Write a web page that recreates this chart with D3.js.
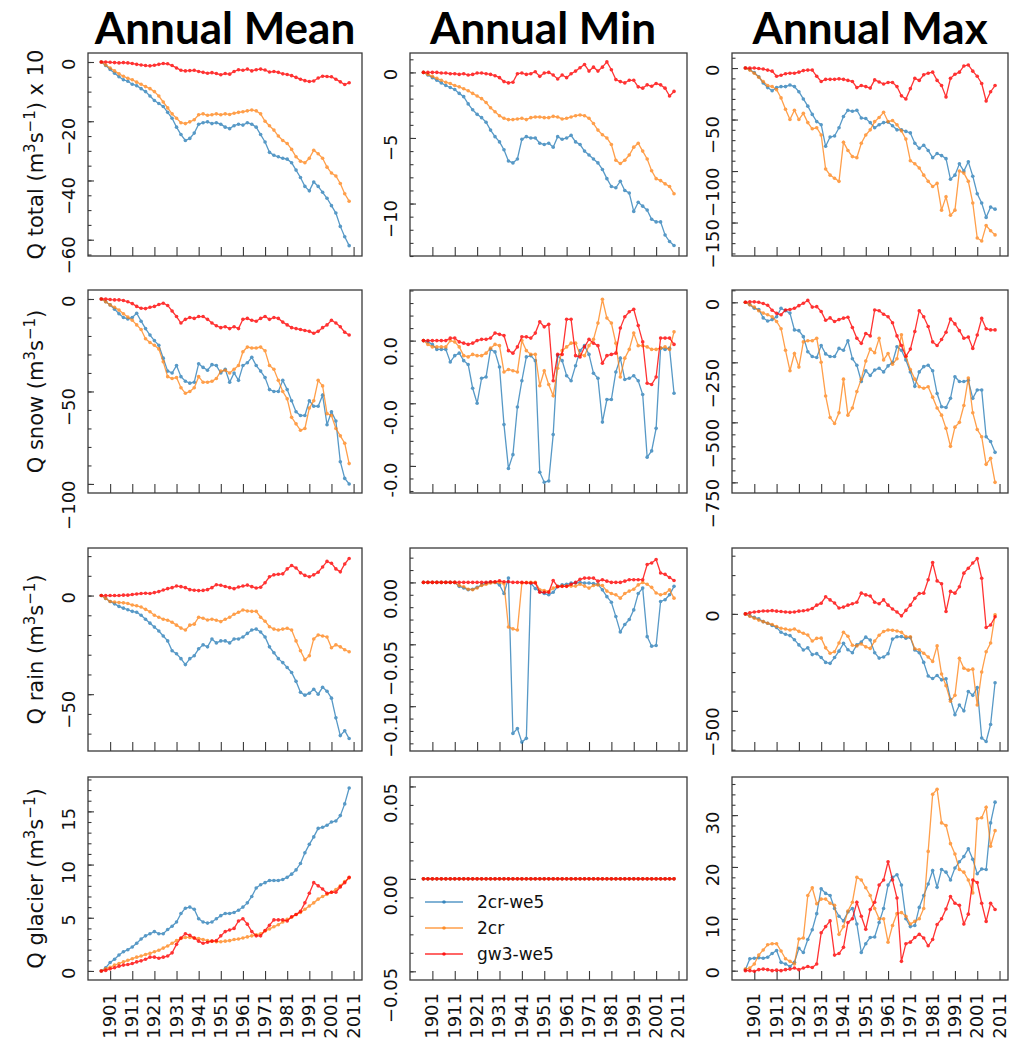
<!DOCTYPE html>
<html lang="en">
<head>
    <meta charset="UTF-8">
    <title>Annual Mean / Min / Max discharge changes</title>
    <script src="https://cdnjs.cloudflare.com/ajax/libs/d3/7.8.5/d3.min.js"></script>
    <style>
        body { margin: 0; background: #fff; }
        svg { display: block; }
    </style>
</head>
<body>
<svg id="chart" width="1017" height="1043"></svg>
<script>
// ---- data (every second year) ----
const years = [1897, 1899, 1901, 1903, 1905, 1907, 1909, 1911, 1913, 1915, 1917, 1919, 1921, 1923, 1925,
    1927, 1929, 1931, 1933, 1935, 1937, 1939, 1941, 1943, 1945, 1947, 1949, 1951, 1953, 1955, 1957, 1959,
    1961, 1963, 1965, 1967, 1969, 1971, 1973, 1975, 1977, 1979, 1981, 1983, 1985, 1987, 1989, 1991, 1993,
    1995, 1997, 1999, 2001, 2003, 2005, 2007, 2009];

const seriesNames = ["2cr-we5", "2cr", "gw3-we5"];
const xTickYears = [1901, 1911, 1921, 1931, 1941, 1951, 1961, 1971, 1981, 1991, 2001, 2011];
const colTitles = ["Annual Mean", "Annual Min", "Annual Max"];
const rowNames = ["Q total", "Q snow", "Q rain", "Q glacier"];

// Q total (x 10)
const totalMean_2crwe5 = [0, -1.2, -2.5, -3.8, -5.0, -6.0, -6.5, -7.5, -8.0, -9.0, -10.0, -11.5, -13.0, -14.0, -15.0, -17.0, -19.0, -22.0, -24.5, -26.5, -25.8, -24.0, -21.0, -20.5, -20.2, -20.8, -20.5, -21.0, -22.0, -22.5, -21.5, -21.0, -21.3, -20.5, -21.0, -22.0, -24.5, -27.0, -30.5, -31.5, -32.0, -32.5, -32.8, -34.0, -36.5, -39.0, -42.0, -43.5, -40.5, -42.0, -44.0, -46.0, -48.5, -51.0, -55.5, -59.0, -62.0];
const totalMean_2cr = [0, -1.0, -2.0, -3.0, -4.0, -4.8, -5.5, -6.0, -6.8, -7.5, -8.3, -9.0, -10.0, -11.5, -13.5, -15.5, -17.5, -19.0, -20.5, -20.8, -20.2, -19.5, -17.8, -17.5, -18.0, -17.8, -17.5, -17.8, -17.5, -17.7, -17.3, -17.0, -16.8, -16.5, -16.2, -16.5, -17.5, -20.0, -21.5, -23.0, -25.0, -26.5, -27.5, -29.5, -32.0, -33.5, -34.0, -32.5, -29.8, -31.0, -32.5, -35.5, -37.5, -38.5, -41.0, -44.5, -47.0];
const totalMean_gw3we5 = [0, 0, -0.1, -0.2, -0.3, -0.2, -0.3, -0.5, -0.8, -1.0, -1.2, -1.3, -1.1, -0.8, -0.5, -0.6, -1.2, -2.0, -2.8, -3.0, -2.9, -2.8, -3.2, -3.5, -3.8, -3.6, -3.9, -4.3, -3.9, -4.1, -3.2, -2.6, -2.8, -2.4, -3.0, -2.6, -2.4, -2.7, -3.4, -3.2, -3.5, -4.0, -4.2, -4.6, -5.2, -5.8, -6.3, -6.6, -6.4, -5.4, -4.8, -4.9, -5.0, -5.8, -6.7, -7.6, -7.0];

const totalMin_2crwe5 = [0, -0.2, -0.4, -0.6, -0.8, -1.0, -1.15, -1.3, -1.6, -1.85, -2.4, -2.85, -3.2, -3.45, -3.8, -4.4, -4.9, -5.3, -5.9, -6.75, -6.9, -6.6, -5.1, -4.9, -5.0, -5.0, -5.4, -5.5, -5.4, -5.7, -4.9, -5.1, -5.0, -4.8, -5.3, -5.5, -6.0, -6.3, -6.6, -6.9, -7.4, -8.1, -8.7, -8.8, -8.3, -9.0, -9.2, -10.6, -9.9, -10.2, -10.5, -11.2, -11.4, -11.4, -12.4, -12.9, -13.2];
const totalMin_2cr = [0, -0.15, -0.3, -0.45, -0.6, -0.75, -0.85, -1.0, -1.1, -1.25, -1.4, -1.6, -1.8, -2.0, -2.3, -2.7, -3.0, -3.3, -3.5, -3.6, -3.6, -3.55, -3.5, -3.6, -3.45, -3.4, -3.4, -3.45, -3.45, -3.35, -3.4, -3.55, -3.5, -3.4, -3.3, -3.25, -3.3, -3.5, -3.9, -4.4, -4.75, -5.0, -5.5, -6.7, -6.95, -6.7, -6.3, -5.7, -5.4, -6.0, -6.6, -7.5, -8.1, -8.25, -8.5, -8.7, -9.25];
const totalMin_gw3we5 = [0, 0, 0, 0, -0.05, -0.05, -0.1, -0.1, -0.15, -0.1, -0.2, -0.15, -0.05, -0.05, -0.1, -0.15, -0.25, -0.4, -0.7, -0.8, -0.75, -0.1, -0.05, -0.15, -0.1, 0.05, -0.3, -0.05, 0.0, -0.2, -0.5, -0.2, -0.4, -0.1, 0.1, 0.35, 0.6, 0.1, 0.4, 0.1, 0.4, 0.8, 0.2, -0.55, -0.7, -0.8, -0.6, -0.6, -1.1, -1.2, -0.95, -1.05, -0.85, -0.95, -1.2, -1.8, -1.45];

const totalMax_2crwe5 = [0, -1.5, -4.5, -8.5, -14.5, -19, -22, -19, -18, -18, -16.5, -18, -23, -30, -37, -45, -52, -55, -76, -67, -66, -58, -47, -41, -42, -41, -48.5, -49, -53, -58, -55, -53, -52.5, -56, -60, -60, -61.5, -63, -73, -78, -75, -80, -87, -83, -85, -88, -108, -104, -93, -100, -91, -105, -122, -131, -145, -135, -137];
const totalMax_2cr = [0, -2, -5, -9, -13, -17, -18, -21, -29, -40, -50, -41, -50, -44, -53, -59, -58, -65, -98, -104, -107, -110, -72, -80, -86, -87, -73, -65, -60, -52, -48, -43, -52, -51, -55, -61, -69, -90, -93, -97, -104, -110, -115, -112, -138, -125, -143, -138, -100, -102, -110, -131, -165, -168, -153, -158, -162];
const totalMax_gw3we5 = [0, 0, 0, -0.5, -1, -2, -3, -8, -7, -5.5, -5, -5, -4, -2.5, -2, -2, -8, -13, -11, -11, -11, -10.5, -11, -12, -13, -19, -17, -18, -19.5, -11.5, -13.5, -15.5, -14, -14, -18, -27, -30, -20, -10, -12, -6.5, -5, -4, -12, -17, -28, -10, -6, -4, 2, 3, -3, -8, -15, -32, -23, -17];

// Q snow
const snowMean_2crwe5 = [0, -1.5, -3.2, -5.5, -8, -10, -10.8, -10, -7.7, -12, -16, -19.5, -22.5, -25, -32, -39, -40, -36, -42, -44.5, -45.5, -45, -35, -37, -38.5, -35.5, -36, -40, -38, -45, -40, -44, -36, -34.5, -31.5, -36, -39, -42.5, -49, -50, -50, -44, -49, -55, -61, -63, -63, -55, -58, -58, -52, -68, -61, -66, -88, -97, -100];
const snowMean_2cr = [0, -1.5, -3.2, -4.5, -6, -8, -9.8, -11.5, -14, -16.5, -21.5, -23.5, -25, -27, -34, -42, -43, -42.5, -48, -51, -50, -48, -42, -45, -45, -44.5, -43, -39, -38.5, -40, -38, -36, -28.5, -26, -26.5, -26.5, -26, -28, -36, -38, -44, -50, -54, -64, -67.5, -71, -70, -59, -55, -44, -47, -62, -63, -70, -74, -78, -89];
const snowMean_gw3we5 = [0, 0, -0.3, -0.5, -0.5, -0.8, -1.5, -2.5, -4, -5, -5.2, -4.5, -4, -3, -2.3, -3.5, -6.5, -9.5, -13, -11, -10, -10.5, -9.5, -9.5, -11, -13, -14.5, -15.5, -15, -16, -15, -16, -11, -10.5, -11.5, -12, -10.5, -9.5, -11, -10, -10.5, -12.5, -14, -15.5, -16, -16.5, -17, -17.5, -18.5, -17.5, -15.5, -14, -11.5, -13, -15, -18, -19.5];

const snowMin_2crwe5 = [0, -0.0001, -0.0003, -0.0007, -0.0007, -0.0007, -0.0017, -0.0012, -0.0010, -0.0016, -0.0019, -0.0038, -0.0050, -0.0030, -0.0029, -0.0007, -0.0009, -0.0021, -0.0067, -0.0102, -0.0091, -0.0053, -0.0032, -0.0013, -0.0012, -0.0016, -0.0105, -0.0113, -0.0112, -0.0075, -0.0012, -0.0016, -0.0028, -0.0032, -0.0020, -0.0008, -0.0004, -0.0011, -0.0026, -0.0030, -0.0065, -0.0047, -0.0047, -0.0025, -0.0014, -0.0031, -0.0030, -0.0028, -0.0032, -0.0043, -0.0093, -0.0088, -0.0070, -0.0006, -0.0007, -0.0006, -0.0042];
const snowMin_2cr = [0, -0.0003, -0.0005, -0.0005, -0.0005, -0.0005, 0, -0.0001, -0.0005, -0.0012, -0.0013, -0.0011, -0.0012, -0.0012, -0.0010, -0.0006, -0.0003, -0.0004, -0.0025, -0.0023, -0.0024, -0.0025, 0, -0.0008, -0.0011, -0.0011, -0.0036, -0.0024, -0.0035, -0.0044, -0.0022, -0.0008, -0.0005, -0.0002, -0.0002, -0.0011, -0.0012, -0.0004, 0.0001, 0.0014, 0.0033, 0.0018, 0.0014, -0.0002, -0.0029, -0.0014, -0.0007, 0.0006, -0.0004, -0.0004, -0.0005, -0.0007, -0.0007, -0.0006, -0.0005, -0.0007, 0.0007];
const snowMin_gw3we5 = [0, 0, 0, 0, 0, 0, 0.0002, 0.0002, -0.0001, -0.0002, -0.0003, -0.0002, 0, 0.0001, 0.0001, 0.0002, 0.0006, 0.0005, 0.0004, -0.0008, -0.0010, -0.0005, 0.0003, 0.0003, 0.0002, 0.0006, 0.0015, 0.0011, 0.0013, -0.0032, -0.0011, -0.0011, 0.0017, 0.0017, -0.0012, -0.0013, -0.0005, 0.0001, -0.0002, -0.0004, -0.0018, -0.0012, -0.0011, -0.0010, 0.0010, 0.0019, 0.0023, 0.0025, 0.0012, -0.0001, -0.0034, -0.0035, -0.0029, 0.0002, 0.0002, 0.0002, -0.0003];

const snowMax_2crwe5 = [0, -10, -25, -30, -65, -78, -72, -60, -25, -35, -45, -115, -118, -143, -206, -226, -230, -180, -215, -226, -226, -192, -200, -160, -235, -262, -330, -285, -305, -282, -275, -290, -265, -250, -185, -200, -240, -290, -350, -290, -268, -262, -285, -380, -435, -438, -400, -310, -330, -330, -325, -400, -365, -365, -560, -580, -625];
const snowMax_2cr = [0, -10, -20, -35, -45, -52, -60, -80, -110, -200, -285, -213, -270, -165, -160, -160, -150, -250, -390, -480, -505, -460, -320, -470, -440, -372, -320, -245, -195, -210, -150, -240, -213, -258, -235, -135, -226, -280, -320, -352, -358, -352, -395, -440, -470, -525, -600, -520, -500, -430, -315, -460, -530, -560, -675, -650, -750];
const snowMax_gw3we5 = [0, 2, 2, 0, -5, -12, -33, -46, -52, -32, -30, -25, -14, -4, 8, -20, -18, -38, -75, -65, -80, -72, -66, -62, -105, -150, -171, -130, -140, -32, -35, -50, -60, -85, -140, -180, -225, -195, -122, -35, -60, -101, -165, -180, -155, -125, -70, -90, -118, -150, -145, -192, -136, -67, -110, -115, -115];

// Q rain
const rainMean_2crwe5 = [0, -1.5, -3.0, -4.2, -5.5, -6.4, -7.2, -8, -8.5, -10, -12, -14, -16, -18, -20.5, -23, -28, -29.5, -32, -35, -32, -30.5, -27, -25, -26, -22, -24, -23, -23, -24, -22, -22, -21, -19.2, -17.5, -17, -18.5, -21, -26, -29, -32, -34, -36.5, -39, -43.5, -49, -50.5, -49.5, -47.5, -50, -46.5, -48.5, -52, -62, -71, -68.5, -72.5];
const rainMean_2cr = [0, -1.5, -3, -3.3, -3.5, -3.7, -4, -4.8, -5.2, -5.8, -7, -8.2, -10, -11, -12, -12.5, -13.5, -15, -16.5, -17.5, -15, -14.5, -11, -11.5, -12.4, -12, -12.5, -13.2, -12, -11, -9.5, -8.5, -7.3, -7.8, -8, -8, -11, -13, -15.8, -17, -17.5, -17, -16.6, -17.5, -23, -28, -32.5, -30.5, -22, -20, -20.5, -21, -26.5, -25, -26, -27.5, -28.5];
const rainMean_gw3we5 = [0, 0, 0, 0, 0, 0.2, 0.2, 0.5, 0.8, 1.0, 1.2, 1.0, 1.5, 2.0, 2.8, 3.5, 4.0, 4.8, 4.5, 4.0, 3.0, 2.7, 2.5, 2.6, 3.0, 4.0, 5.5, 5.2, 4.6, 4.0, 3.5, 4.3, 4.8, 5.3, 4.5, 3.8, 4.2, 6.5, 9.5, 10.5, 10.8, 11.0, 13.5, 15.2, 14.0, 11.5, 10.2, 9.5, 10.5, 11.8, 14.5, 17.3, 16.4, 13.5, 12.0, 16.0, 18.8];

const rainMin_2crwe5 = [0, 0, 0, 0, 0, 0, 0, 0, -0.0032, -0.0045, -0.0059, -0.0055, -0.0040, -0.0020, -0.0005, 0, 0, -0.0020, -0.0090, 0.0035, -0.122, -0.118, -0.129, -0.126, -0.0005, -0.0050, -0.0073, -0.0090, -0.0100, -0.0080, -0.0032, -0.0020, -0.0015, -0.0005, -0.0005, 0, -0.0005, -0.0005, -0.0010, -0.0015, -0.0060, -0.0115, -0.0160, -0.0276, -0.0400, -0.0340, -0.0300, -0.0222, -0.0090, -0.0046, -0.0438, -0.0515, -0.0510, -0.0154, -0.0140, -0.0100, -0.0032];
const rainMin_2cr = [0, 0, 0, 0, 0, 0, 0, 0, -0.0025, -0.0035, -0.0055, -0.0059, -0.0045, -0.0025, -0.0015, -0.0005, 0, 0, -0.0010, -0.0360, -0.0375, -0.0385, -0.0005, 0, 0, 0, -0.0059, -0.0065, -0.0073, -0.0046, -0.0032, -0.0030, -0.0030, -0.0030, -0.0030, -0.0015, -0.0030, -0.0046, -0.0025, -0.0020, -0.0025, -0.0070, -0.0090, -0.0100, -0.0127, -0.0090, -0.0070, -0.0055, -0.0020, 0, -0.0015, -0.0040, -0.0086, -0.0100, -0.0090, -0.0060, -0.0127];
const rainMin_gw3we5 = [0, 0, 0, 0, 0, 0, 0, 0, 0, 0, 0, 0, 0, 0, 0, 0.0005, 0.0005, 0.0013, 0.0005, 0.0005, 0, 0, 0, -0.0003, -0.0005, -0.0005, -0.0080, -0.0080, -0.0080, 0.0016, -0.0035, -0.0032, -0.0032, -0.0015, 0, 0.0025, 0.0035, 0.0035, 0.0035, 0.0010, 0.0022, 0.0010, 0, 0, 0, 0.0010, 0.0022, 0.0022, 0.0022, 0.0022, 0.0145, 0.0157, 0.0185, 0.0076, 0.0065, 0.0040, 0.0016];

const rainMax_2crwe5 = [0, -10, -18, -25, -40, -48, -60, -70, -95, -105, -112, -133, -160, -186, -175, -210, -205, -225, -250, -255, -225, -192, -152, -185, -200, -160, -145, -120, -135, -200, -228, -222, -205, -130, -118, -117, -125, -122, -186, -200, -250, -320, -333, -318, -340, -335, -440, -520, -470, -500, -400, -420, -380, -640, -658, -570, -355];
const rainMax_2cr = [0, -12, -22, -32, -40, -48, -55, -65, -74, -78, -83, -78, -90, -100, -109, -140, -126, -125, -175, -203, -195, -150, -95, -115, -162, -165, -155, -170, -178, -140, -110, -91, -83, -84, -88, -95, -117, -118, -180, -185, -203, -222, -245, -165, -310, -370, -450, -420, -229, -280, -290, -285, -470, -300, -195, -150, -5];
const rainMax_gw3we5 = [0, 5, 10, 12, 15, 15, 17, 14, 12, 10, 8, 10, 14, 16, 20, 28, 45, 55, 88, 72, 56, 30, 35, 45, 52, 60, 107, 98, 92, 60, 52, 72, 45, 25, 10, -10, 18, 45, 80, 105, 107, 176, 265, 170, 155, 12, 116, 107, 140, 210, 235, 262, 285, 184, -70, -57, -15];

// Q glacier
const glacierMean_2crwe5 = [0, 0.3, 0.8, 1.1, 1.5, 1.8, 2.0, 2.25, 2.6, 3.0, 3.3, 3.5, 3.7, 3.5, 3.5, 3.9, 4.2, 4.6, 5.4, 5.9, 6.0, 5.8, 4.9, 4.6, 4.5, 4.6, 4.9, 5.2, 5.4, 5.4, 5.5, 5.7, 6.0, 6.4, 7.0, 7.8, 8.1, 8.3, 8.5, 8.5, 8.5, 8.6, 8.8, 9.1, 9.5, 10.1, 11.1, 11.9, 12.6, 13.4, 13.5, 13.7, 14.0, 14.1, 14.6, 15.7, 17.2];
const glacierMean_2cr = [0, 0.2, 0.35, 0.55, 0.7, 0.85, 1.0, 1.15, 1.3, 1.4, 1.55, 1.65, 1.8, 1.95, 2.15, 2.35, 2.6, 2.85, 3.05, 3.15, 3.15, 3.1, 3.05, 2.95, 2.85, 2.8, 2.75, 2.75, 2.8, 2.85, 2.95, 3.0, 3.1, 3.2, 3.3, 3.4, 3.5, 3.75, 3.95, 4.15, 4.35, 4.6, 4.85, 5.05, 5.3, 5.5, 5.8, 6.1, 6.4, 6.75, 7.0, 7.2, 7.4, 7.65, 8.0, 8.4, 8.75];
const glacierMean_gw3we5 = [0, 0.05, 0.2, 0.3, 0.45, 0.55, 0.6, 0.7, 0.85, 0.95, 1.1, 1.3, 1.3, 1.2, 1.3, 1.4, 1.7, 2.5, 3.1, 3.5, 3.35, 3.1, 2.8, 2.6, 2.7, 2.8, 2.85, 3.3, 3.7, 3.85, 4.0, 4.7, 4.9, 4.4, 3.7, 3.3, 3.3, 3.8, 4.3, 4.8, 4.8, 4.8, 4.7, 5.1, 5.3, 5.6, 6.4, 7.3, 8.3, 8.0, 7.7, 7.3, 7.4, 7.4, 7.9, 8.3, 8.8];

const glacierMin_2crwe5 = [0, 0, 0, 0, 0, 0, 0, 0, 0, 0, 0, 0, 0, 0, 0, 0, 0, 0, 0, 0, 0, 0, 0, 0, 0, 0, 0, 0, 0, 0, 0, 0, 0, 0, 0, 0, 0, 0, 0, 0, 0, 0, 0, 0, 0, 0, 0, 0, 0, 0, 0, 0, 0, 0, 0, 0, 0];
const glacierMin_2cr = [0, 0, 0, 0, 0, 0, 0, 0, 0, 0, 0, 0, 0, 0, 0, 0, 0, 0, 0, 0, 0, 0, 0, 0, 0, 0, 0, 0, 0, 0, 0, 0, 0, 0, 0, 0, 0, 0, 0, 0, 0, 0, 0, 0, 0, 0, 0, 0, 0, 0, 0, 0, 0, 0, 0, 0, 0];
const glacierMin_gw3we5 = [0, 0, 0, 0, 0, 0, 0, 0, 0, 0, 0, 0, 0, 0, 0, 0, 0, 0, 0, 0, 0, 0, 0, 0, 0, 0, 0, 0, 0, 0, 0, 0, 0, 0, 0, 0, 0, 0, 0, 0, 0, 0, 0, 0, 0, 0, 0, 0, 0, 0, 0, 0, 0, 0, 0, 0, 0];

const glacierMax_2crwe5 = [0.2, 2.3, 2.4, 2.5, 2.4, 2.6, 3.3, 3.9, 1.6, 1.3, 0.8, 1.6, 4.3, 3.5, 6.0, 7.9, 11.0, 15.8, 14.9, 14.5, 12.0, 10.5, 9.6, 11.3, 12.0, 9.0, 3.5, 5.2, 6.4, 6.5, 9.3, 12.0, 16.5, 18.0, 18.5, 16.5, 10.0, 8.5, 8.7, 12.2, 14.5, 16.7, 19.3, 16.1, 19.5, 19.0, 17.5, 19.8, 21.0, 22.0, 23.5, 21.5, 18.7, 19.6, 19.5, 28.5, 32.5];
const glacierMax_2cr = [0.3, 0.5, 1.3, 3.0, 4.0, 5.0, 5.2, 5.2, 3.8, 2.3, 1.8, 1.3, 6.1, 6.3, 14.5, 16.0, 12.9, 13.8, 13.8, 13.0, 12.6, 7.0, 8.5, 11.5, 13.2, 18.0, 17.5, 16.0, 14.5, 12.0, 10.0, 10.0, 5.5, 8.7, 11.0, 11.2, 10.5, 9.0, 9.5, 10.0, 12.0, 23.0, 34.0, 35.0, 28.5, 28.0, 24.5, 22.5, 19.5, 19.0, 17.5, 15.0, 29.3, 29.5, 31.5, 24.0, 27.0];
const glacierMax_gw3we5 = [0, 0, -0.1, 0.2, 0.3, 0.2, 0, 0.1, 0, 0.2, 0.3, 0.5, 0.2, 0.5, 0.8, 0.6, 1.3, 7.3, 8.5, 9.6, 3.0, 3.3, 4.5, 9.3, 10.0, 13.2, 10.5, 8.0, 11.8, 13.2, 16.5, 17.5, 21.0, 17.5, 14.0, 1.8, 5.2, 5.5, 6.4, 7.0, 6.3, 4.8, 6.0, 8.9, 10.0, 11.9, 14.3, 13.0, 12.6, 9.0, 10.9, 17.5, 17.0, 13.0, 9.5, 13.0, 11.8];

// ---- layout ----
const colX = [88, 410, 732];
const colW = [274, 277, 276];
const rowY = [53, 290, 548, 777];
const rowH = 203;
const colors = ["#1f77b4", "#ff7f0e", "#ff0000"];
const seriesOpacity = [0.75, 0.75, 0.8];
const tickFont = "'DejaVu Sans', sans-serif";

const fInt = d3.format("d");
const f2 = d3.format(".2f");
const f1hyphen = d => d.toFixed(1); // plain "%.1f", hyphen minus

const panels = [
    { r: 0, c: 0, data: [totalMean_2crwe5, totalMean_2cr, totalMean_gw3we5], dom: [-65.5, 3.04], major: [0, -20, -40, -60], minor: 5, fmt: fInt },
    { r: 0, c: 1, data: [totalMin_2crwe5, totalMin_2cr, totalMin_gw3we5], dom: [-14.0, 1.48], major: [0, -5, -10], minor: 1, fmt: fInt },
    { r: 0, c: 2, data: [totalMax_2crwe5, totalMax_2cr, totalMax_gw3we5], dom: [-182.5, 14.6], major: [0, -50, -100, -150], minor: 10, fmt: fInt },
    { r: 1, c: 0, data: [snowMean_2crwe5, snowMean_2cr, snowMean_gw3we5], dom: [-104.9, 4.86], major: [0, -50, -100], minor: 10, fmt: fInt },
    { r: 1, c: 1, data: [snowMin_2crwe5, snowMin_2cr, snowMin_gw3we5], dom: [-0.01216, 0.00404], major: [0, -0.005, -0.01], minor: 0.001, fmt: f1hyphen },
    { r: 1, c: 2, data: [snowMax_2crwe5, snowMax_2cr, snowMax_gw3we5], dom: [-794.4, 51.3], major: [0, -250, -500, -750], minor: 50, fmt: fInt },
    { r: 2, c: 0, data: [rainMean_2crwe5, rainMean_2cr, rainMean_gw3we5], dom: [-78.8, 24.1], major: [0, -50], minor: 10, fmt: fInt },
    { r: 2, c: 1, data: [rainMin_2crwe5, rainMin_2cr, rainMin_gw3we5], dom: [-0.1362, 0.0278], major: [0, -0.05, -0.1], minor: 0.01, fmt: f2 },
    { r: 2, c: 2, data: [rainMax_2crwe5, rainMax_2cr, rainMax_gw3we5], dom: [-706.9, 339.7], major: [0, -500], minor: 100, fmt: fInt },
    { r: 3, c: 0, data: [glacierMean_2crwe5, glacierMean_2cr, glacierMean_gw3we5], dom: [-0.85, 18.23], major: [0, 5, 10, 15], minor: 1, fmt: fInt },
    { r: 3, c: 1, data: [glacierMin_2crwe5, glacierMin_2cr, glacierMin_gw3we5], dom: [-0.0547, 0.0551], major: [-0.05, 0, 0.05], minor: 0.01, fmt: f2 },
    { r: 3, c: 2, data: [glacierMax_2crwe5, glacierMax_2cr, glacierMax_gw3we5], dom: [-1.8, 37.35], major: [0, 10, 20, 30], minor: 2, fmt: fInt }
];

const svg = d3.select("#chart");
svg.append("rect").attr("width", 1017).attr("height", 1043).attr("fill", "#fff");

const xBase = d3.scaleLinear().domain([1891, 2014.8]);

panels.forEach(p => {
    const w = colW[p.c];
    const x = xBase.copy().range([0, w]);
    const y = d3.scaleLinear().domain(p.dom).range([rowH, 0]);
    const g = svg.append("g").attr("transform", `translate(${colX[p.c]},${rowY[p.r]})`);

    // minor y ticks
    const step = p.minor;
    const minorVals = [];
    for (let k = Math.ceil(p.dom[0] / step); k * step <= p.dom[1]; k++) minorVals.push(k * step);
    const gMinor = g.append("g").call(d3.axisLeft(y).tickValues(minorVals).tickSize(-3.5).tickFormat(""));
    gMinor.select(".domain").remove();

    // major y ticks + rotated labels
    const gy = g.append("g").call(d3.axisLeft(y).tickValues(p.major).tickSize(-6).tickFormat(p.fmt));
    gy.select(".domain").remove();
    gy.selectAll("text")
        .attr("x", null).attr("dy", null)
        .attr("transform", "translate(-20,-4) rotate(-90)")
        .attr("text-anchor", "end")
        .attr("dominant-baseline", "central")
        .attr("fill", "#111")
        .style("font-family", tickFont)
        .style("font-size", "18px");

    // x ticks (labels only on bottom row)
    const gx = g.append("g").attr("transform", `translate(0,${rowH})`)
        .call(d3.axisBottom(x).tickValues(xTickYears).tickSize(-9)
            .tickFormat(p.r === 3 ? d => String(d) : ""));
    gx.select(".domain").remove();
    gx.selectAll("text")
        .attr("y", null).attr("dy", null)
        .attr("transform", "translate(-1,13) rotate(-90)")
        .attr("text-anchor", "end")
        .attr("dominant-baseline", "central")
        .attr("fill", "#111")
        .style("font-family", tickFont)
        .style("font-size", "18px");

    g.selectAll(".tick line").attr("stroke", "#3a3a3a").attr("stroke-width", 1.1);

    // series
    const line = d3.line().x((d, i) => x(years[i])).y(d => y(d));
    p.data.forEach((vals, si) => {
        const s = g.append("g").attr("opacity", seriesOpacity[si]);
        s.append("path").datum(vals)
            .attr("d", line)
            .attr("fill", "none")
            .attr("stroke", colors[si])
            .attr("stroke-width", 1.3);
        s.selectAll("circle").data(vals).enter().append("circle")
            .attr("cx", (d, i) => x(years[i]))
            .attr("cy", d => y(d))
            .attr("r", 1.8)
            .attr("fill", colors[si]);
    });

    // frame
    g.append("rect").attr("width", w).attr("height", rowH)
        .attr("fill", "none").attr("stroke", "#3a3a3a").attr("stroke-width", 1.3);

    // legend in the Annual Min / glacier panel
    if (p.r === 3 && p.c === 1) {
        const rowsY = [125, 151, 177];
        seriesNames.forEach((name, si) => {
            const lg = g.append("g").attr("transform", `translate(15,${rowsY[si]})`);
            lg.append("line").attr("x1", 0).attr("x2", 38)
                .attr("stroke", colors[si]).attr("stroke-width", 1.3).attr("opacity", seriesOpacity[si]);
            lg.append("circle").attr("cx", 19).attr("r", 1.8).attr("fill", colors[si]).attr("opacity", seriesOpacity[si]);
            lg.append("text").attr("x", 52).attr("dominant-baseline", "central")
                .style("font-family", tickFont).style("font-size", "17px").attr("fill", "#111")
                .text(name);
        });
    }
});

// column titles
const titleX = [225, 543, 870];
colTitles.forEach((t, i) => {
    svg.append("text").attr("x", titleX[i]).attr("y", 44)
        .attr("text-anchor", "middle")
        .style("font-family", "Lato, 'Open Sans', sans-serif")
        .style("font-weight", "700")
        .style("font-size", "44px")
        .attr("fill", "#000")
        .text(t);
});

// row labels with superscript units
rowNames.forEach((name, i) => {
    const t = svg.append("text")
        .attr("transform", `translate(43,${rowY[i] + rowH / 2}) rotate(-90)`)
        .attr("text-anchor", "middle")
        .style("font-family", tickFont)
        .style("font-size", "21px")
        .attr("fill", "#111");
    t.append("tspan").text(name + " (m");
    t.append("tspan").attr("dy", -8).style("font-size", "15px").text("3");
    t.append("tspan").attr("dy", 8).text("s");
    t.append("tspan").attr("dy", -8).style("font-size", "15px").text("\u22121");
    t.append("tspan").attr("dy", 8).text(i === 0 ? ") x 10" : ")");
});
</script>
</body>
</html>
